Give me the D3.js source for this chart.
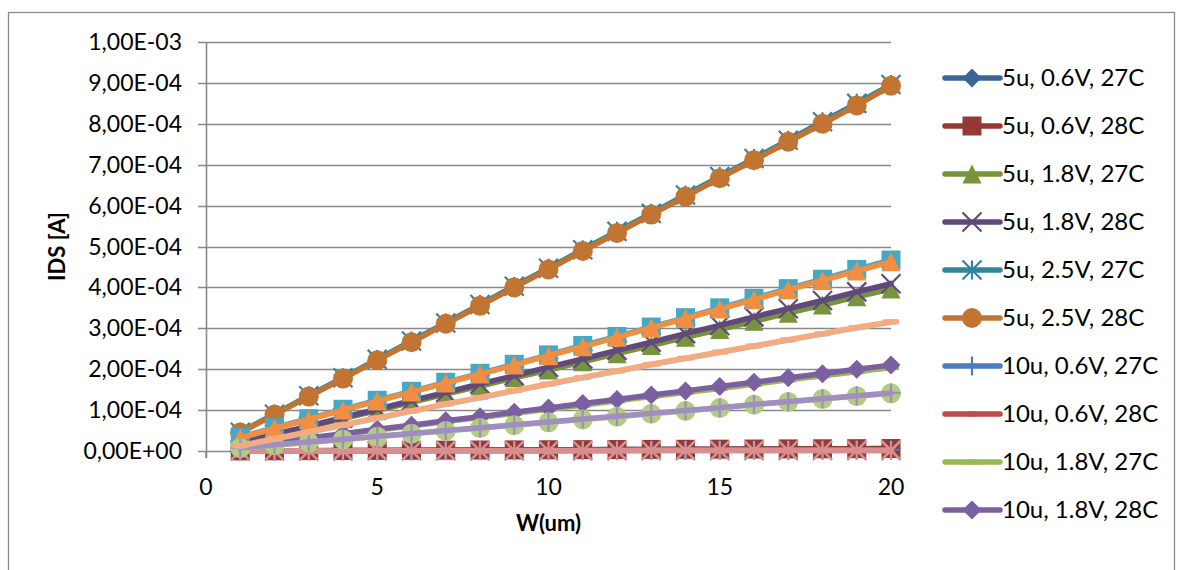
<!DOCTYPE html>
<html>
<head>
<meta charset="utf-8">
<title>IDS vs W</title>
<script src="https://d3js.org/d3.v7.min.js"></script>
<style>
  body { margin: 0; background: #fff; }
  text { font-family: Lato, "Open Sans", sans-serif; fill: #000; }
</style>
</head>
<body>
<div id="chart"></div>
<script>
// W values (um)
const widths = [1,2,3,4,5,6,7,8,9,10,11,12,13,14,15,16,17,18,19,20];

// series names, in plot order
const seriesNames = [
  "5u, 0.6V, 27C", "5u, 0.6V, 28C", "5u, 1.8V, 27C", "5u, 1.8V, 28C", "5u, 2.5V, 27C", "5u, 2.5V, 28C",
  "10u, 0.6V, 27C", "10u, 0.6V, 28C", "10u, 1.8V, 27C", "10u, 1.8V, 28C", "10u, 2.5V, 27C", "10u, 2.5V, 28C",
  "20u, 0.6V, 27C", "20u, 0.6V, 28C", "20u, 1.8V, 27C", "20u, 1.8V, 28C", "20u, 2.5V, 27C", "20u, 2.5V, 28C"
];

// IDS [A]
const ids5u06v27 = [0.3e-6,0.6e-6,0.9e-6,1.2e-6,1.5e-6,1.8e-6,2.1e-6,2.4e-6,2.7e-6,3.0e-6,3.3e-6,3.6e-6,3.9e-6,4.2e-6,4.5e-6,4.8e-6,5.1e-6,5.4e-6,5.7e-6,6.0e-6];
const ids5u06v28 = [0.3e-6,0.6e-6,0.9e-6,1.2e-6,1.5e-6,1.8e-6,2.1e-6,2.4e-6,2.7e-6,3.0e-6,3.3e-6,3.6e-6,3.9e-6,4.2e-6,4.5e-6,4.8e-6,5.1e-6,5.4e-6,5.7e-6,6.0e-6];
const ids5u18v27 = [1.9e-5,3.9e-5,5.9e-5,7.9e-5,9.9e-5,1.19e-4,1.39e-4,1.59e-4,1.79e-4,1.98e-4,2.18e-4,2.38e-4,2.58e-4,2.78e-4,2.97e-4,3.17e-4,3.37e-4,3.57e-4,3.77e-4,3.96e-4];
const ids5u18v28 = [2.0e-5,4.1e-5,6.1e-5,8.2e-5,1.02e-4,1.23e-4,1.43e-4,1.64e-4,1.84e-4,2.05e-4,2.25e-4,2.46e-4,2.66e-4,2.87e-4,3.07e-4,3.28e-4,3.48e-4,3.68e-4,3.89e-4,4.09e-4];
const ids5u25v27 = [4.6e-5,9.0e-5,1.35e-4,1.79e-4,2.24e-4,2.69e-4,3.13e-4,3.58e-4,4.03e-4,4.47e-4,4.92e-4,5.37e-4,5.81e-4,6.26e-4,6.71e-4,7.15e-4,7.60e-4,8.05e-4,8.50e-4,8.96e-4];
const ids5u25v28 = [4.5e-5,8.9e-5,1.33e-4,1.77e-4,2.22e-4,2.66e-4,3.11e-4,3.55e-4,4.00e-4,4.44e-4,4.89e-4,5.33e-4,5.78e-4,6.22e-4,6.67e-4,7.11e-4,7.56e-4,8.00e-4,8.45e-4,8.93e-4];
const ids10u06v27 = [0.2e-6,0.3e-6,0.5e-6,0.6e-6,0.8e-6,0.9e-6,1.1e-6,1.2e-6,1.4e-6,1.5e-6,1.7e-6,1.8e-6,2.0e-6,2.1e-6,2.3e-6,2.4e-6,2.6e-6,2.7e-6,2.9e-6,3.0e-6];
const ids10u06v28 = [0.2e-6,0.3e-6,0.5e-6,0.6e-6,0.8e-6,0.9e-6,1.1e-6,1.2e-6,1.4e-6,1.5e-6,1.7e-6,1.8e-6,2.0e-6,2.1e-6,2.3e-6,2.4e-6,2.6e-6,2.7e-6,2.9e-6,3.0e-6];
const ids10u18v27 = [1.0e-5,2.0e-5,3.1e-5,4.1e-5,5.1e-5,6.1e-5,7.2e-5,8.2e-5,9.2e-5,1.02e-4,1.12e-4,1.23e-4,1.33e-4,1.43e-4,1.53e-4,1.63e-4,1.74e-4,1.84e-4,1.94e-4,2.04e-4];
const ids10u18v28 = [1.1e-5,2.1e-5,3.2e-5,4.2e-5,5.3e-5,6.3e-5,7.4e-5,8.4e-5,9.5e-5,1.05e-4,1.16e-4,1.26e-4,1.37e-4,1.47e-4,1.58e-4,1.68e-4,1.79e-4,1.89e-4,2.00e-4,2.10e-4];
const ids10u25v27 = [3.4e-5,5.7e-5,7.9e-5,1.02e-4,1.24e-4,1.46e-4,1.68e-4,1.90e-4,2.12e-4,2.35e-4,2.58e-4,2.80e-4,3.03e-4,3.26e-4,3.50e-4,3.73e-4,3.97e-4,4.20e-4,4.44e-4,4.67e-4];
const ids10u25v28 = [3.2e-5,5.5e-5,7.7e-5,1.00e-4,1.22e-4,1.44e-4,1.66e-4,1.88e-4,2.10e-4,2.33e-4,2.55e-4,2.78e-4,3.01e-4,3.24e-4,3.47e-4,3.70e-4,3.94e-4,4.17e-4,4.40e-4,4.63e-4];
const ids20u06v27 = [0.1e-6,0.2e-6,0.2e-6,0.3e-6,0.4e-6,0.5e-6,0.5e-6,0.6e-6,0.7e-6,0.8e-6,0.8e-6,0.9e-6,1.0e-6,1.1e-6,1.1e-6,1.2e-6,1.3e-6,1.4e-6,1.4e-6,1.5e-6];
const ids20u06v28 = [0.1e-6,0.2e-6,0.2e-6,0.3e-6,0.4e-6,0.5e-6,0.5e-6,0.6e-6,0.7e-6,0.8e-6,0.8e-6,0.9e-6,1.0e-6,1.1e-6,1.1e-6,1.2e-6,1.3e-6,1.4e-6,1.4e-6,1.5e-6];
const ids20u18v27 = [7e-6,1.4e-5,2.1e-5,2.8e-5,3.5e-5,4.2e-5,4.9e-5,5.6e-5,6.3e-5,7.0e-5,7.7e-5,8.4e-5,9.1e-5,9.8e-5,1.05e-4,1.13e-4,1.20e-4,1.27e-4,1.34e-4,1.41e-4];
const ids20u18v28 = [8e-6,1.5e-5,2.2e-5,2.9e-5,3.6e-5,4.3e-5,5.0e-5,5.7e-5,6.4e-5,7.1e-5,7.8e-5,8.5e-5,9.2e-5,9.9e-5,1.06e-4,1.14e-4,1.21e-4,1.28e-4,1.35e-4,1.42e-4];
const ids20u25v27 = [1.2e-5,2.9e-5,4.6e-5,6.3e-5,8.0e-5,9.7e-5,1.14e-4,1.30e-4,1.47e-4,1.63e-4,1.79e-4,1.95e-4,2.11e-4,2.26e-4,2.41e-4,2.56e-4,2.71e-4,2.86e-4,3.01e-4,3.15e-4];
const ids20u25v28 = [1.3e-5,3.0e-5,4.7e-5,6.4e-5,8.1e-5,9.8e-5,1.15e-4,1.31e-4,1.48e-4,1.64e-4,1.80e-4,1.96e-4,2.12e-4,2.27e-4,2.42e-4,2.57e-4,2.72e-4,2.87e-4,3.02e-4,3.16e-4];

const xTicks = [0, 5, 10, 15, 20];
const yTicks = [0, 1e-4, 2e-4, 3e-4, 4e-4, 5e-4, 6e-4, 7e-4, 8e-4, 9e-4, 1e-3];

const allValues = [ids5u06v27, ids5u06v28, ids5u18v27, ids5u18v28, ids5u25v27, ids5u25v28,
  ids10u06v27, ids10u06v28, ids10u18v27, ids10u18v28, ids10u25v27, ids10u25v28,
  ids20u06v27, ids20u06v28, ids20u18v27, ids20u18v28, ids20u25v27, ids20u25v28];

// Excel-like colors + marker cycle
const colors = ["#3B6597", "#963836", "#77933C", "#5F4A7B", "#31859C", "#C27432",
  "#4A7EBB", "#BE4B48", "#98B954", "#7C5FA1", "#47A8C3", "#F28E42",
  "#95B3D7", "#D98F8D", "#B2CC82", "#A08EC0", "#93CDDD", "#F6AA7E"];
const markers = ["diamond", "square", "triangle", "x", "star", "circle", "plus", "dash", "longdash"];

const W = 1184, H = 570;
const plot = {left: 206, right: 891, top: 42, bottom: 451};

const svg = d3.select("#chart").append("svg")
  .attr("width", W).attr("height", H);

// outer frame
svg.append("rect")
  .attr("x", 8.5).attr("y", 12.5)
  .attr("width", 1166).attr("height", 600)
  .attr("fill", "none").attr("stroke", "#8a8a8a").attr("stroke-width", 1.3);

const x = d3.scaleLinear().domain([0, 20]).range([plot.left, plot.right]);
const y = d3.scaleLinear().domain([0, 1e-3]).range([plot.bottom, plot.top]);

function fmtE(v) {
  const parts = v.toExponential(2).split("e");
  const e = +parts[1];
  return parts[0].replace(".", ",") + "E" + (e < 0 ? "-" : "+") + String(Math.abs(e)).padStart(2, "0");
}

const gray = "#898989";

// gridlines
svg.append("g").selectAll("line")
  .data(yTicks)
  .join("line")
    .attr("x1", plot.left - 8).attr("x2", plot.right)
    .attr("y1", d => Math.round(y(d)) + 0.5).attr("y2", d => Math.round(y(d)) + 0.5)
    .attr("stroke", gray).attr("stroke-width", 1.6);

// y axis line
svg.append("line")
  .attr("x1", plot.left + 0.5).attr("x2", plot.left + 0.5)
  .attr("y1", plot.top).attr("y2", plot.bottom + 7)
  .attr("stroke", gray).attr("stroke-width", 1.6);

// x ticks
svg.append("g").selectAll("line")
  .data(xTicks)
  .join("line")
    .attr("x1", d => x(d)).attr("x2", d => x(d))
    .attr("y1", plot.bottom).attr("y2", plot.bottom + 7)
    .attr("stroke", gray).attr("stroke-width", 1.6);

// y tick labels
svg.append("g").selectAll("text")
  .data(yTicks)
  .join("text")
    .attr("x", 182).attr("y", d => y(d))
    .attr("dy", "0.35em")
    .attr("text-anchor", "end")
    .style("font-size", "23px")
    .text(fmtE);

// x tick labels
svg.append("g").selectAll("text")
  .data(xTicks)
  .join("text")
    .attr("x", d => x(d)).attr("y", 487)
    .attr("dy", "0.35em")
    .attr("text-anchor", "middle")
    .style("font-size", "23px")
    .text(d => d);

// axis titles
svg.append("text")
  .attr("x", (plot.left + plot.right) / 2).attr("y", 523)
  .attr("dy", "0.35em")
  .attr("text-anchor", "middle")
  .style("font-size", "22px").style("font-weight", "bold")
  .text("W(um)");

svg.append("text")
  .attr("transform", `translate(57,${(plot.top + plot.bottom) / 2}) rotate(-90)`)
  .attr("dy", "0.35em")
  .attr("text-anchor", "middle")
  .style("font-size", "22px").style("font-weight", "bold")
  .text("IDS [A]");

// marker shapes
function markerPath(type) {
  const s = 9.5;
  switch (type) {
    case "diamond": return `M0,${-s}L${s},0L0,${s}L${-s},0Z`;
    case "square": return `M${-s},${-s}H${s}V${s}H${-s}Z`;
    case "triangle": return `M0,${-s}L${s},${s}L${-s},${s}Z`;
    case "x": return `M${-s},${-s}L${s},${s}M${s},${-s}L${-s},${s}`;
    case "star": return `M${-s},${-s}L${s},${s}M${s},${-s}L${-s},${s}M0,${-s}L0,${s}`;
    case "plus": return `M${-s},0L${s},0M0,${-s}L0,${s}`;
    case "dash": return `M-5,0L5,0`;
    case "longdash": return `M-8,0L8,0`;
  }
  return "";
}
const strokeMarkers = ["x", "star", "plus", "dash", "longdash"];

function drawMarker(g, type, color) {
  if (type === "circle") {
    g.append("circle").attr("r", 10).attr("fill", color);
  } else if (strokeMarkers.includes(type)) {
    g.append("path").attr("d", markerPath(type))
      .attr("fill", "none").attr("stroke", color)
      .attr("stroke-width", type.includes("dash") ? 5 : 2.2);
  } else {
    g.append("path").attr("d", markerPath(type)).attr("fill", color);
  }
}

const line = d3.line()
  .x(d => x(d.w))
  .y(d => y(d.v));

const series = seriesNames.map((name, i) => ({
  name: name,
  color: colors[i],
  marker: markers[i % markers.length],
  points: widths.map((w, j) => ({w: w, v: allValues[i][j]}))
}));

const plotG = svg.append("g");
series.forEach(s => {
  const g = plotG.append("g");
  g.append("path")
    .datum(s.points)
    .attr("d", line)
    .attr("fill", "none")
    .attr("stroke", s.color)
    .attr("stroke-width", 5.5)
    .attr("stroke-linejoin", "round")
    .attr("stroke-linecap", "round");
  g.selectAll("g.m")
    .data(s.points)
    .join("g")
      .attr("class", "m")
      .attr("transform", d => `translate(${x(d.w)},${y(d.v)})`)
      .each(function() { drawMarker(d3.select(this), s.marker, s.color); });
});

// legend: only the first 10 entries fit
const legendRows = series.slice(0, 10);
const legend = svg.append("g");
legendRows.forEach((s, i) => {
  const ly = 78 + i * 48;
  const g = legend.append("g").attr("transform", `translate(0,${ly})`);
  g.append("line")
    .attr("x1", 945).attr("x2", 1000)
    .attr("stroke", s.color).attr("stroke-width", 5.5)
    .attr("stroke-linecap", "round");
  drawMarker(g.append("g").attr("transform", "translate(972,0)"), s.marker, s.color);
  g.append("text")
    .attr("x", 1002).attr("y", 0)
    .attr("dy", "0.35em")
    .style("font-size", "24px")
    .text(s.name);
});
</script>
</body>
</html>
